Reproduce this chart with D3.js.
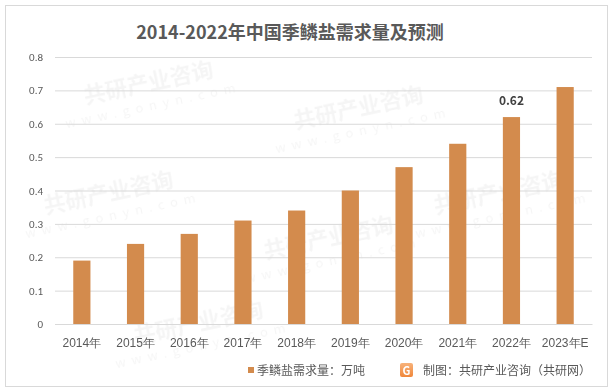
<!DOCTYPE html>
<html>
<head>
<meta charset="utf-8">
<script src="https://cdn.jsdelivr.net/npm/d3@7"></script>
<style>
  body { margin: 0; background: #fff; }
  svg { display: block; font-family: "Noto Sans CJK SC", "Microsoft YaHei", sans-serif; }
</style>
</head>
<body>
<svg id="drawing_region"></svg>
<script>
const years  = ['2014年', '2015年', '2016年', '2017年', '2018年', '2019年', '2020年', '2021年', '2022年', '2023年E'];
const demand = [0.19, 0.24, 0.27, 0.31, 0.34, 0.40, 0.47, 0.54, 0.62, 0.71];
const yTicks = [0, 0.1, 0.2, 0.3, 0.4, 0.5, 0.6, 0.7, 0.8];
const labelled = ['2022年'];

const title = '2014-2022年中国季鳞盐需求量及预测';
const seriesName = '季鳞盐需求量：万吨';
const source = '制图：共研产业咨询（共研网）';

const width = 615, height = 392;
const margin = { top: 57, right: 23, bottom: 68, left: 55 };
const barColor = '#d38b4d';
const textColor = '#595959';

const svg = d3.select('#drawing_region')
    .attr('width', width)
    .attr('height', height);

svg.append('rect')
    .attr('x', 5.5).attr('y', 5.5)
    .attr('width', 602).attr('height', 381)
    .attr('fill', '#fff')
    .attr('stroke', '#d9d9d9');

// faint watermark
const wm = svg.append('g').attr('fill', '#000').attr('opacity', 0.04)
    .attr('font-weight', 'bold');
[[150, 90], [360, 115], [110, 200], [330, 245], [500, 200], [200, 330]].forEach(p => {
    const g = wm.append('g').attr('transform', `translate(${p[0]},${p[1]}) rotate(-12)`);
    g.append('text').attr('font-size', 22).attr('text-anchor', 'middle').text('共研产业咨询');
    g.append('text').attr('y', 20).attr('font-size', 13).attr('text-anchor', 'middle')
        .attr('letter-spacing', 6).attr('font-weight', 'normal').text('www.gonyn.com');
});

svg.append('text')
    .attr('x', 290).attr('y', 39)
    .attr('text-anchor', 'middle')
    .attr('font-size', 18)
    .attr('font-weight', 'bold')
    .attr('fill', textColor)
    .text(title);

const innerW = width - margin.left - margin.right;
const innerH = height - margin.top - margin.bottom;

const chart = svg.append('g')
    .attr('transform', `translate(${margin.left}, ${margin.top})`);

const xscale = d3.scaleBand()
    .domain(years)
    .range([0, innerW])
    .paddingInner(0.68)
    .paddingOuter(0.34);

const yscale = d3.scaleLinear()
    .domain([0, 0.8])
    .range([innerH, 0]);

const yaxis = d3.axisLeft(yscale)
    .tickValues(yTicks)
    .tickSize(-innerW)
    .tickPadding(12)
    .tickFormat(d => d === 0 ? '0' : d3.format('.1f')(d));

const yg = chart.append('g').call(yaxis);
yg.select('.domain').remove();
yg.selectAll('.tick line').attr('stroke', '#d9d9d9');
yg.selectAll('.tick text').attr('fill', textColor).attr('font-size', 11)
    .attr('font-family', 'Calibri, "Liberation Sans", "Noto Sans", sans-serif');

const xaxis = d3.axisBottom(xscale)
    .tickSize(0)
    .tickPadding(14);

const xg = chart.append('g')
    .attr('transform', `translate(0, ${innerH})`)
    .call(xaxis);
xg.select('.domain').attr('stroke', '#d9d9d9');
xg.selectAll('.tick text').attr('fill', textColor).attr('font-size', 12);

chart.append('g').selectAll('rect')
    .data(demand)
    .join('rect')
    .attr('x', (d, i) => xscale(years[i]))
    .attr('y', d => yscale(d))
    .attr('width', xscale.bandwidth())
    .attr('height', d => innerH - yscale(d))
    .attr('fill', barColor);

chart.append('g').selectAll('text')
    .data(demand.map((d, i) => ({ y: years[i], v: d })).filter(d => labelled.includes(d.y)))
    .join('text')
    .attr('x', d => xscale(d.y) + xscale.bandwidth() / 2)
    .attr('y', d => yscale(d.v) - 12)
    .attr('text-anchor', 'middle')
    .attr('font-size', 12)
    .attr('font-weight', 'bold')
    .attr('fill', '#404040')
    .text(d => d.v);

// legend
const legend = svg.append('g').attr('transform', 'translate(248, 370)');
legend.append('rect').attr('x', 0).attr('y', -3).attr('width', 6).attr('height', 6).attr('fill', barColor);
legend.append('text').attr('x', 9).attr('y', 4.5).attr('font-size', 12).attr('fill', textColor).text(seriesName);

// source
const src = svg.append('g').attr('transform', 'translate(400, 370)');
const grad = svg.append('defs').append('linearGradient').attr('id', 'lg')
    .attr('x1', 0).attr('y1', 0).attr('x2', 0).attr('y2', 1);
grad.append('stop').attr('offset', 0).attr('stop-color', '#f7b27a');
grad.append('stop').attr('offset', 1).attr('stop-color', '#f0873a');
src.append('rect').attr('x', 0).attr('y', -7).attr('width', 13).attr('height', 14).attr('rx', 2).attr('fill', 'url(#lg)');
src.append('text').attr('x', 6.5).attr('y', 4.5).attr('text-anchor', 'middle').attr('font-size', 11)
    .attr('font-weight', 'bold').attr('fill', '#fff').text('G');
src.append('text').attr('x', 23).attr('y', 4.5).attr('font-size', 12).attr('fill', textColor).text(source);
</script>
</body>
</html>
